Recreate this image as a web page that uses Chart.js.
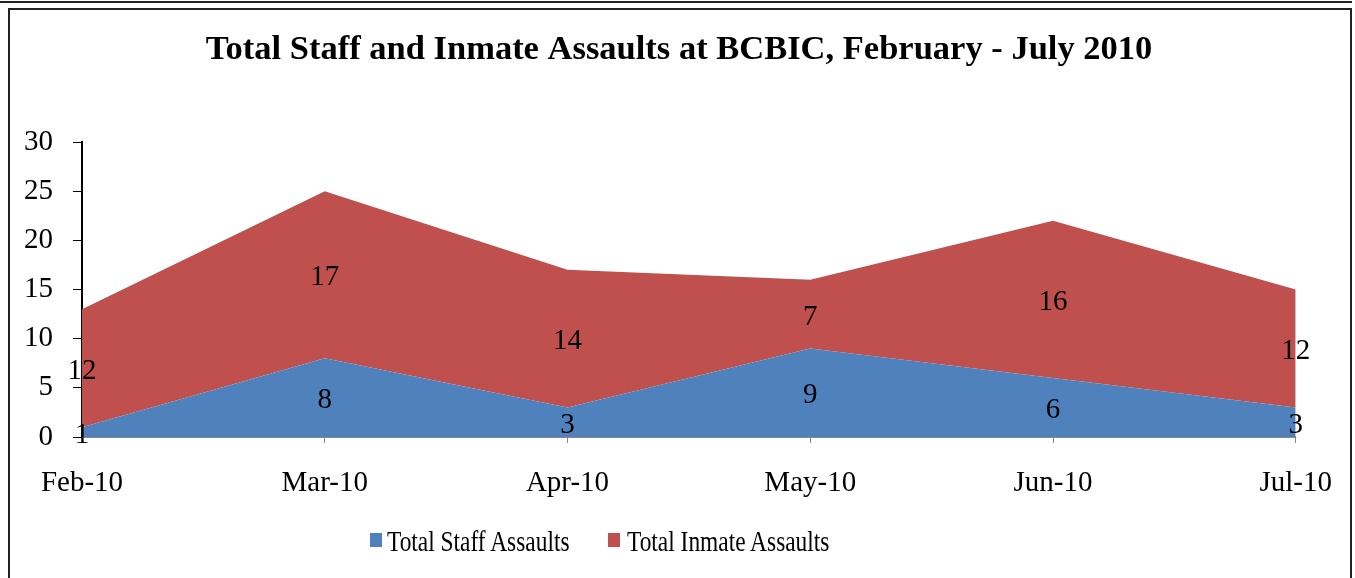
<!DOCTYPE html>
<html>
<head>
<meta charset="utf-8">
<script src="https://cdn.jsdelivr.net/npm/chart.js@4/dist/chart.umd.min.js"></script>
<style>
  body { margin: 0; background: #fff; }
  #wrap { position: relative; width: 1355px; height: 578px; overflow: hidden; }
  #topline { position: absolute; left: 0; top: 0; width: 1352px; height: 1px; border-bottom: 2px solid #222; }
  #frame { position: absolute; left: 8px; top: 8px; width: 1340px; height: 600px; border: 2px solid #222; }
  canvas { position: absolute; left: 0; top: 0; }
  #legend { position: absolute; left: 0; top: 0; font-family: "Liberation Serif", serif; font-size: 30px; line-height: 30px; color: #000; }
  #legend .box { position: absolute; top: 533px; width: 12px; height: 14px; }
  #legend .txt { position: absolute; top: 526px; white-space: nowrap; transform: scaleX(0.78); transform-origin: left center; }
</style>
</head>
<body>
<div id="wrap">
  <div id="topline"></div>
  <div id="frame"></div>
  <canvas id="chart" width="1355" height="578"></canvas>
  <div id="legend"></div>
</div>
<script>
const months = ['Feb-10', 'Mar-10', 'Apr-10', 'May-10', 'Jun-10', 'Jul-10'];
const staffAssaults = [1, 8, 3, 9, 6, 3];
const inmateAssaults = [12, 17, 14, 7, 16, 12];
const seriesNames = ['Total Staff Assaults', 'Total Inmate Assaults'];
const seriesColors = ['#4F81BD', '#C0504D'];
const chartTitle = 'Total Staff and Inmate Assaults at BCBIC, February - July 2010';

const serif = '"Liberation Serif", "Times New Roman", serif';

// value labels in the middle of each stacked band
const bandLabels = {
    id: 'bandLabels',
    afterDatasetsDraw(chart) {
        const ctx = chart.ctx;
        const y = chart.scales.y;
        const base = months.map(() => 0);
        ctx.save();
        ctx.font = '29px ' + serif;
        ctx.fillStyle = '#000';
        ctx.textAlign = 'center';
        ctx.textBaseline = 'middle';
        chart.data.datasets.forEach((ds, i) => {
            const meta = chart.getDatasetMeta(i);
            ds.data.forEach((v, j) => {
                const px = meta.data[j].x;
                const py = y.getPixelForValue(base[j] + v / 2) + 3;
                ctx.fillText(String(v), px, py);
                base[j] += v;
            });
        });
        ctx.restore();
    }
};

// title sits a bit right of the canvas centre in the original
const titleText = {
    id: 'titleText',
    afterDraw(chart) {
        const ctx = chart.ctx;
        ctx.save();
        ctx.font = 'bold 34.5px ' + serif;
        ctx.fillStyle = '#000';
        ctx.textAlign = 'center';
        ctx.textBaseline = 'middle';
        ctx.fillText(chartTitle, 679, 50);
        ctx.restore();
    }
};

new Chart(document.getElementById('chart'), {
    type: 'line',
    data: {
        labels: months,
        datasets: [
            {
                label: seriesNames[0],
                data: staffAssaults,
                backgroundColor: seriesColors[0],
                borderColor: seriesColors[0],
                borderWidth: 0,
                pointRadius: 0,
                fill: 'origin',
                tension: 0
            },
            {
                label: seriesNames[1],
                data: inmateAssaults,
                backgroundColor: seriesColors[1],
                borderColor: seriesColors[1],
                borderWidth: 0,
                pointRadius: 0,
                fill: '-1',
                tension: 0
            }
        ]
    },
    options: {
        responsive: false,
        animation: false,
        layout: { padding: { left: 0, right: 58, top: 142, bottom: 0 } },
        plugins: {
            legend: { display: false },
            tooltip: { enabled: false },
            title: { display: false }
        },
        scales: {
            x: {
                offset: false,
                afterFit: s => { s.height = 141; },
                grid: { drawOnChartArea: false, color: '#888', tickLength: 6 },
                border: { color: '#888', width: 2 },
                ticks: { color: '#000', padding: 23, maxRotation: 0, font: { family: serif, size: 29 } }
            },
            y: {
                stacked: true,
                min: 0,
                max: 30,
                afterFit: s => { s.width = 82; },
                grid: { drawOnChartArea: false, color: '#000', tickLength: 9 },
                border: { color: '#000', width: 2 },
                ticks: { stepSize: 5, color: '#000', padding: 20, font: { family: serif, size: 29 } }
            }
        }
    },
    plugins: [bandLabels, titleText]
});

// legend drawn as html, squeezed like the original
const legendBoxX = [370, 608];
const legendTextX = [387, 627];
const legend = document.getElementById('legend');
legend.innerHTML = seriesNames.map((n, i) =>
    `<span class="box" style="left:${legendBoxX[i]}px;background:${seriesColors[i]}"></span>` +
    `<span class="txt" style="left:${legendTextX[i]}px">${n}</span>`
).join('');
</script>
</body>
</html>
